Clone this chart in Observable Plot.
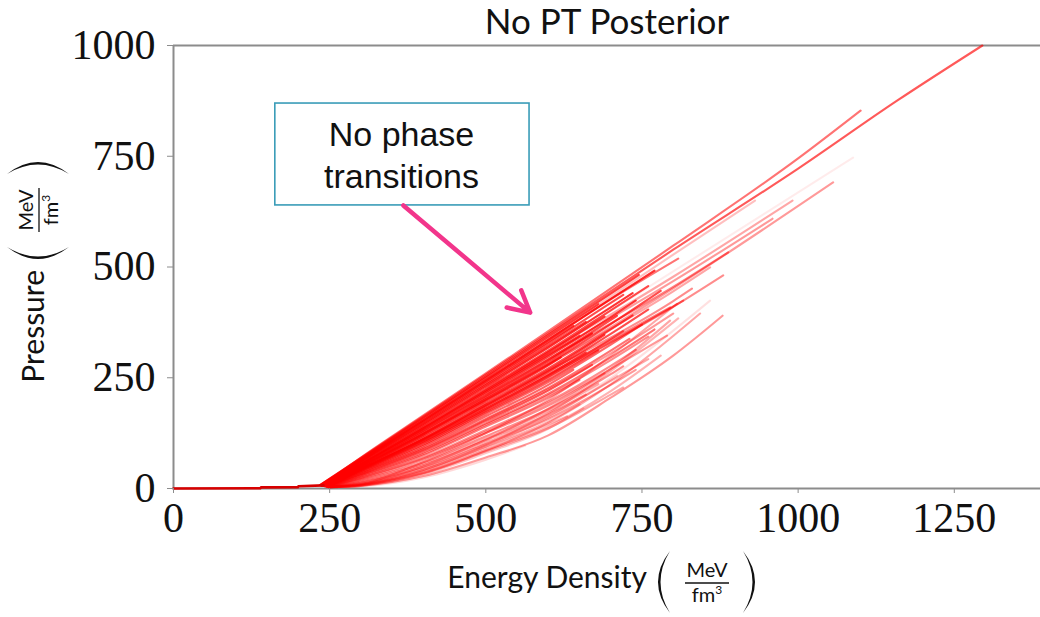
<!DOCTYPE html>
<html>
<head>
<meta charset="utf-8">
<script src="https://cdn.jsdelivr.net/npm/d3@7"></script>
<script src="https://cdn.jsdelivr.net/npm/@observablehq/plot@0.6"></script>
<style>
  html, body { margin: 0; padding: 0; background: #fff; }
  #chart svg { display: block; }
</style>
</head>
<body>
<div id="chart"></div>
<script>
// Equation-of-state samples: [energy density, pressure] in MeV/fm^3.

// Low-density crust shared by every sample
const crust = [[0, 0], [139, 0.5], [140, 2.5], [199, 3], [200, 5], [240, 7]];

// Stiff samples that run out to the highest central energy densities
const stiffCurves = [
  [[235, 8], [300, 69], [400, 163], [500, 257], [600, 351], [800, 539], [1000, 722], [1159, 876], [1295, 1000]],
  [[238, 8], [300, 70], [400, 165], [500, 260], [600, 355], [800, 548], [1000, 745], [1100, 853]],
  [[240, 8], [300, 64], [400, 155], [500, 248], [600, 340], [800, 528], [931, 650]],
  [[242, 7], [300, 55], [400, 138], [500, 222], [600, 308], [800, 478], [991, 650]],
  [[242, 7], [300, 54], [400, 136], [500, 218], [600, 302], [800, 468], [959, 609]],
  [[243, 6], [300, 50], [400, 125], [500, 200], [600, 280], [800, 452], [1056, 691]],
  [[241, 7], [300, 57], [400, 140], [500, 225], [600, 312], [800, 490], [1088, 747]],
  [[243, 6], [300, 52], [400, 130], [500, 210], [600, 292], [800, 455], [888, 533]],
  [[246, 5], [300, 42], [400, 108], [500, 180], [600, 255], [800, 410], [880, 481]],
  [[244, 6], [300, 48], [400, 122], [500, 200], [600, 280], [800, 445], [859, 499]],
  [[245, 5], [300, 44], [400, 112], [500, 188], [600, 265], [800, 423], [830, 451]],
  [[246, 5], [300, 40], [400, 104], [500, 175], [600, 250], [700, 330], [816, 424]],
  [[245, 5], [300, 43], [400, 110], [500, 183], [600, 258], [700, 335], [795, 409]],
  [[238, 7], [300, 64], [400, 153], [500, 243], [600, 335], [700, 427], [808, 519]]
];
const stiffWeights = [0.65, 0.55, 0.25, 0.35, 0.4, 0.4, 0.08, 0.5, 0.45, 0.35, 0.45, 0.5, 0.5, 0.55];

// Bulk of the posterior
const coreCurves = [
  [[235, 8], [300, 68], [400, 160], [500, 253], [600, 347], [700, 440], [745, 482]],
  [[236, 8], [300, 66], [400, 158], [500, 250], [600, 342], [680, 416]],
  [[236, 8], [300, 65], [400, 154], [500, 245], [600, 336], [700, 428], [770, 492]],
  [[236, 7], [300, 63], [400, 151], [500, 241], [600, 331], [640, 367]],
  [[237, 7], [300, 62], [400, 148], [500, 237], [600, 327], [700, 419], [720, 437]],
  [[237, 7], [300, 61], [400, 146], [500, 234], [600, 322], [660, 376]],
  [[237, 7], [300, 60], [400, 143], [500, 230], [600, 318], [700, 409], [735, 441]],
  [[238, 7], [300, 58], [400, 139], [500, 225], [600, 311], [700, 402], [760, 457]],
  [[238, 7], [300, 56], [400, 136], [500, 221], [600, 307], [690, 388]],
  [[238, 7], [300, 55], [400, 134], [500, 218], [600, 302], [650, 345]],
  [[239, 7], [300, 54], [400, 131], [500, 214], [600, 298], [700, 387], [740, 424]],
  [[239, 7], [300, 52], [400, 127], [500, 209], [600, 291], [710, 390]],
  [[239, 7], [300, 51], [400, 124], [500, 205], [600, 287], [670, 350]],
  [[240, 6], [300, 49], [400, 122], [500, 202], [600, 282], [700, 371], [780, 446]],
  [[240, 6], [300, 48], [400, 119], [500, 198], [600, 278], [620, 296]],
  [[240, 6], [300, 46], [400, 115], [500, 193], [600, 271], [700, 359], [735, 391]],
  [[241, 6], [300, 45], [400, 112], [500, 189], [600, 267], [690, 347]],
  [[241, 6], [300, 44], [400, 110], [500, 186], [600, 263], [700, 349], [760, 404]],
  [[241, 6], [300, 42], [400, 106], [500, 180], [600, 256], [660, 307]],
  [[242, 6], [300, 41], [400, 103], [500, 177], [600, 252], [700, 337], [720, 355]],
  [[242, 6], [300, 39], [400, 99], [500, 172], [600, 245], [680, 312]],
  [[242, 5], [300, 37], [400, 96], [500, 168], [600, 240], [700, 325], [750, 370]],
  [[243, 5], [300, 36], [400, 92], [500, 163], [600, 234], [640, 268]],
  [[243, 5], [300, 34], [400, 89], [500, 157], [600, 227], [700, 311], [730, 338]],
  [[244, 5], [300, 33], [400, 87], [500, 155], [600, 224], [700, 305], [800, 395]],
  [[244, 5], [300, 32], [400, 85], [500, 152], [600, 221], [670, 279]],
  [[244, 5], [300, 30], [400, 81], [500, 147], [600, 214], [700, 296], [770, 359]],
  [[245, 5], [300, 29], [400, 78], [500, 144], [600, 210], [700, 290], [760, 343]],
  [[245, 5], [300, 27], [400, 75], [500, 140], [600, 205], [650, 245]],
  [[245, 4], [300, 25], [400, 70], [500, 132], [600, 196], [700, 277], [740, 313]],
  [[246, 4], [300, 24], [400, 68], [500, 128], [600, 192], [700, 270], [790, 345]],
  [[246, 4], [300, 22], [400, 65], [500, 125], [600, 187], [690, 260]],
  [[247, 4], [300, 20], [400, 59], [500, 118], [600, 179], [700, 258], [720, 276]],
  [[247, 4], [300, 18], [400, 56], [500, 113], [600, 174], [680, 236]],
  [[247, 4], [300, 16], [400, 53], [500, 109], [600, 168], [660, 212]],
  [[248, 3], [300, 14], [400, 49], [500, 104], [600, 163], [700, 243], [760, 292]],
  [[248, 3], [300, 13], [400, 46], [500, 100], [600, 157], [700, 234], [740, 268]],
  [[249, 3], [300, 11], [400, 42], [500, 95], [600, 151], [650, 190]],
  [[249, 3], [300, 10], [400, 39], [500, 91], [600, 145], [630, 163]],
  [[250, 3], [300, 9], [400, 36], [500, 87], [600, 140], [700, 220], [780, 300]],
  [[250, 3], [300, 8], [400, 34], [500, 84], [600, 136], [700, 212], [720, 228]]
];
const coreWeights = [
  0.75, 0.7, 0.8, 0.75, 0.7, 0.75, 0.8, 0.7, 0.75, 0.7, 0.75, 0.7,
  0.75, 0.7, 0.75, 0.7, 0.75, 0.7, 0.7, 0.6, 0.7, 0.6, 0.6, 0.55,
  0.4, 0.6, 0.55, 0.45, 0.5, 0.45, 0.4, 0.45, 0.45, 0.35, 0.4,
  0.35, 0.4, 0.3, 0.3, 0.3, 0.35
];

// Softer samples along the lower edge of the band
const softCurves = [
  [[250, 3], [300, 6], [400, 28], [500, 70], [600, 120], [700, 205], [800, 300], [879, 390]],
  [[250, 3], [300, 7], [400, 35], [500, 85], [600, 148], [700, 235], [843, 395]],
  [[249, 3], [300, 8], [400, 45], [500, 100], [600, 165], [700, 250], [859, 424]],
  [[248, 4], [300, 10], [400, 60], [500, 125], [600, 200], [700, 300], [806, 417]],
  [[249, 4], [300, 9], [400, 50], [500, 110], [600, 180], [700, 270], [795, 379]],
  [[250, 3], [300, 7], [400, 40], [500, 95], [600, 160], [710, 255]],
  [[251, 3], [300, 5], [400, 25], [500, 65], [563, 97]],
  [[250, 3], [300, 6], [400, 32], [500, 80], [600, 135], [656, 181]],
  [[249, 3], [300, 8], [400, 42], [500, 98], [600, 170], [700, 265], [808, 384]]
];
const softWeights = [0.4, 0.35, 0.12, 0.35, 0.35, 0.22, 0.15, 0.22, 0.3];

const xTicks = [0, 250, 500, 750, 1000, 1250];
const yTicks = [0, 250, 500, 750, 1000];

const chartTitle = "No PT Posterior";
const xLabel = "Energy Density";
const yLabel = "Pressure";
const unitTop = "MeV";
const unitBottom = "fm";
const noteText = "No phase\ntransitions";

// Callout box and arrow, in data units
const noteBox = [{x1: 163, x2: 570, y1: 639, y2: 869}];
const noteAnchor = [{x: 365, y: 756}];
const noteArrow = [{x1: 368, y1: 639, x2: 571, y2: 397}];

// One line mark per sample; opacity follows the sample's weight
const samples = [
  ...softCurves.map((c, i) => ({pts: c, w: softWeights[i]})),
  ...coreCurves.map((c, i) => ({pts: c, w: coreWeights[i]})),
  ...stiffCurves.map((c, i) => ({pts: c, w: stiffWeights[i]}))
];
const sampleMarks = samples.map(({pts, w}) =>
  Plot.line(pts, {
    x: d => d[0], y: d => d[1],
    stroke: "#ff0000", strokeOpacity: w, strokeWidth: 2.1,
    curve: "monotone-x"
  })
);

const spine = "#8c8c8c";

const plot = Plot.plot({
  width: 1040,
  height: 617,
  marginTop: 45,
  marginBottom: 129,
  marginLeft: 173,
  marginRight: 0,
  x: {domain: [0, 1388]},
  y: {domain: [0, 1000]},
  style: {fontFamily: "'Liberation Serif', 'DejaVu Serif', serif", fontSize: "42px", background: "#fff", color: "#111"},
  marks: [
    Plot.ruleY([0, 1000], {stroke: spine, strokeWidth: 2}),
    Plot.ruleX([0], {stroke: spine, strokeWidth: 2}),
    ...sampleMarks,
    Plot.line(crust, {x: d => d[0], y: d => d[1], stroke: "#d80000", strokeWidth: 2.6}),
    Plot.axisX({ticks: xTicks, tickSize: 5, tickPadding: 9, tickFormat: d => String(d), label: null, stroke: spine, fill: "#111"}),
    Plot.axisY({ticks: yTicks, tickSize: 6, tickPadding: 12, tickFormat: d => String(d), label: null, stroke: spine, fill: "#111"}),
    Plot.rect(noteBox, {x1: "x1", x2: "x2", y1: "y1", y2: "y2", fill: "#fff", stroke: "#3a9cb8", strokeWidth: 1.6}),
    Plot.text(noteAnchor, {
      x: "x", y: "y", text: () => noteText,
      fontFamily: "'Liberation Sans', Arial, sans-serif", fontSize: 34,
      lineHeight: 1.235, fill: "#111"
    }),
    Plot.arrow(noteArrow, {x1: "x1", y1: "y1", x2: "x2", y2: "y2", stroke: "#f2358b", strokeWidth: 4.5, headLength: 8, headAngle: 56})
  ]
});

document.getElementById("chart").appendChild(plot);

// Title and axis titles with a stacked MeV / fm^3 unit in tall parentheses
const svg = d3.select(plot);
const labelFont = "Lato, 'Noto Sans', sans-serif";

svg.append("text")
  .attr("x", 607).attr("y", 34)
  .attr("text-anchor", "middle")
  .attr("font-family", labelFont).attr("font-size", 35).attr("fill", "#111")
  .text(chartTitle);

// Local origin sits at the end of the label text, on its baseline
function unitLabel(text) {
  const g = svg.append("g").attr("font-family", labelFont).attr("fill", "#111");
  g.append("text").attr("text-anchor", "end").attr("font-size", 30).text(text);
  const a = 23, b = 96, cx = 60;
  g.append("path").attr("d", `M${a},-37 Q${a - 24},-6 ${a},25 Q${a - 19},-6 ${a},-37 Z`);
  g.append("path").attr("d", `M${b},-37 Q${b + 24},-6 ${b},25 Q${b + 19},-6 ${b},-37 Z`);
  g.append("text").attr("x", cx).attr("y", -11).attr("text-anchor", "middle").attr("font-size", 20).text(unitTop);
  g.append("line").attr("x1", cx - 22).attr("x2", cx + 22).attr("y1", -5).attr("y2", -5)
    .attr("stroke", "#111").attr("stroke-width", 1.3);
  const f = g.append("text").attr("x", cx).attr("y", 14).attr("text-anchor", "middle").attr("font-size", 20);
  f.append("tspan").text(unitBottom);
  f.append("tspan").attr("dy", -8).attr("font-size", 12).text("3");
  return g;
}

unitLabel(xLabel).attr("transform", "translate(647,588)");
unitLabel(yLabel).attr("transform", "translate(44,270) rotate(-90)");
</script>
</body>
</html>
